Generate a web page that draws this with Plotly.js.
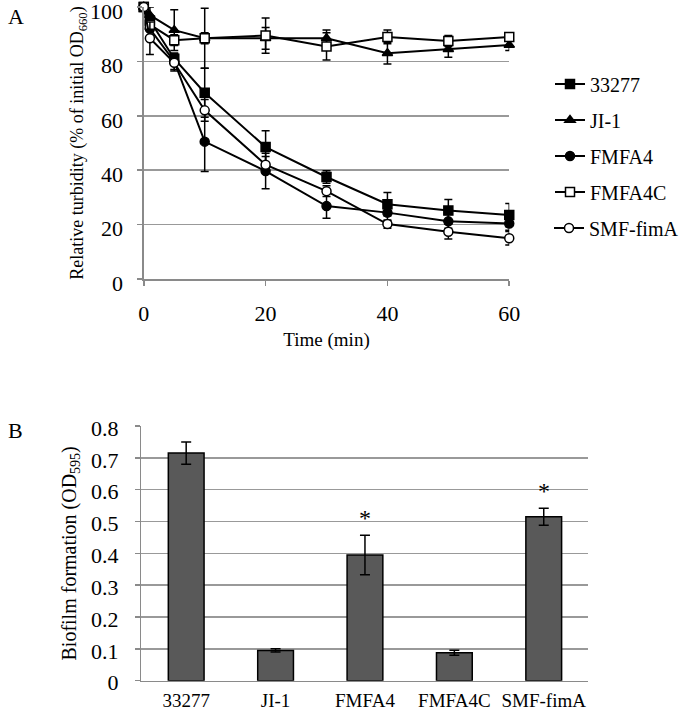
<!DOCTYPE html>
<html>
<head>
<meta charset="utf-8">
<script src="https://cdn.plot.ly/plotly-3.0.1.min.js"></script>
<style>html,body{margin:0;padding:0;background:#fff;}#chart{width:684px;height:711px;}</style>
</head>
<body>
<div id="chart"></div>
<script>
// Panel A: turbidity over time
const timeMin = [0, 1, 5, 10, 20, 30, 40, 50, 60];
const s33277 = [100, 95, 81, 68.5, 48.5, 37.5, 27.5, 25.2, 23.5];
const e33277 = [1, 2, 2, 9, 6, 2.3, 4.3, 4, 4.3];
const sJI1 = [100, 97, 91.5, 88.5, 88.5, 88.5, 83, 84.5, 86];
const eJI1 = [1, 3, 7.5, 11, 4, 3, 4, 3, 2];
const sFMFA4 = [100, 92, 80, 50.5, 39.7, 26.8, 24.4, 21.2, 20.4];
const eFMFA4 = [1, 3, 3, 11, 6.5, 4.5, 3, 2.5, 2.5];
const sFMFA4C = [100, 93.5, 87.8, 88.5, 89.5, 85.5, 89, 87.5, 89];
const eFMFA4C = [1, 2, 2, 2, 6.5, 5, 2.5, 2, 1.5];
const sSMF = [100, 88.5, 79.5, 62, 42, 32.3, 20.2, 17.4, 15];
const eSMF = [1, 6, 3, 4, 3, 2, 1.5, 2.7, 2.5];
const seriesNames = ['33277', 'JI-1', 'FMFA4', 'FMFA4C', 'SMF-fimA'];

// Panel B: biofilm formation
const strains = ['33277', 'JI-1', 'FMFA4', 'FMFA4C', 'SMF-fimA'];
const biofilm = [0.715, 0.095, 0.395, 0.088, 0.515];
const biofilmErr = [0.035, 0.005, 0.062, 0.008, 0.027];
const significance = ['', '', '*', '', '*'];

const W = 684, H = 711;
const px = v => v / W;
const py = v => 1 - v / H;
const FONT = 'Liberation Serif, Times New Roman, serif';

const styles = [
  {symbol: 'square', fill: 'black'},
  {symbol: 'triangle-up', fill: 'black'},
  {symbol: 'circle', fill: 'black'},
  {symbol: 'square', fill: 'white'},
  {symbol: 'circle', fill: 'white'}
];
const ys = [s33277, sJI1, sFMFA4, sFMFA4C, sSMF];
const es = [e33277, eJI1, eFMFA4, eFMFA4C, eSMF];
const legendIds = ['legend', 'legend2', 'legend3', 'legend4', 'legend5'];

const traces = ys.map((y, i) => ({
  type: 'scatter', mode: 'lines+markers', name: seriesNames[i],
  x: timeMin, y: y, xaxis: 'x', yaxis: 'y',
  legend: legendIds[i], cliponaxis: false,
  line: {color: 'black', width: 2},
  marker: {symbol: styles[i].symbol, size: 9, color: styles[i].fill, line: {color: 'black', width: 1.5}},
  error_y: {type: 'data', array: es[i], visible: true, color: 'black', thickness: 1.5, width: 4}
}));

traces.push({
  type: 'bar', x: strains, y: biofilm, xaxis: 'x2', yaxis: 'y2', showlegend: false,
  width: 0.4,
  marker: {color: '#595959', line: {color: 'black', width: 1.5}},
  error_y: {type: 'data', array: biofilmErr, visible: true, color: 'black', thickness: 1.5, width: 5}
});

const annotations = [
  {text: 'A', xref: 'paper', yref: 'paper', x: px(6), y: py(16), xanchor: 'left', yanchor: 'middle', showarrow: false, font: {size: 22, family: FONT, color: 'black'}},
  {text: 'B', xref: 'paper', yref: 'paper', x: px(6), y: py(430), xanchor: 'left', yanchor: 'middle', showarrow: false, font: {size: 22, family: FONT, color: 'black'}}
];
significance.forEach((s, i) => {
  if (s) annotations.push({text: s, xref: 'x2', yref: 'y2', x: strains[i], y: biofilm[i] + biofilmErr[i] + 0.055,
    yanchor: 'middle', showarrow: false, font: {size: 24, family: FONT, color: '#000000'}});
});

const gridC = '#999999', lineC = '#8a8a8a';
const legendRows = [84, 120, 156, 192, 228];
const layout = {
  width: W, height: H, margin: {l: 0, r: 0, t: 0, b: 0},
  paper_bgcolor: 'white', plot_bgcolor: 'white',
  font: {family: FONT, color: 'black', size: 19},
  showlegend: true,
  xaxis: {domain: [px(144), px(510)], range: [0, 60], tickvals: [0, 20, 40, 60], ticks: 'outside', ticklen: 5, tickcolor: lineC, tickwidth: 1.5,
    showline: true, linecolor: lineC, linewidth: 1.5, showgrid: false, zeroline: false, tickfont: {size: 22}, ticklabelstandoff: 9,
    ticklabeloverflow: 'allow', title: {text: 'Time (min)', font: {size: 19}, standoff: 8}, anchor: 'y'},
  yaxis: {domain: [py(279), py(7)], range: [0, 100], dtick: 20, ticks: 'outside', ticklen: 5, tickcolor: lineC, tickwidth: 1.5,
    showline: true, linecolor: lineC, linewidth: 1.5, gridcolor: gridC, gridwidth: 1.5, zeroline: false, tickfont: {size: 22}, ticklabelstandoff: 10,
    ticklabelshift: 4, ticklabeloverflow: 'allow',
    title: {text: 'Relative turbidity (% of initial OD<sub>660</sub>)', font: {size: 18}, standoff: 1}, anchor: 'x'},
  xaxis2: {domain: [px(141.7), px(589.3)], type: 'category', anchor: 'y2', showline: true, linecolor: lineC, linewidth: 1.5, ticks: '',
    showgrid: false, tickfont: {size: 19}, ticklabelstandoff: 2, ticklabeloverflow: 'allow'},
  yaxis2: {domain: [py(680.7), py(426)], range: [0, 0.8], dtick: 0.1, ticks: 'outside', ticklen: 5, tickcolor: lineC, tickwidth: 1.5,
    showline: true, linecolor: lineC, linewidth: 1.5, gridcolor: gridC, gridwidth: 1.5, zeroline: false, tickfont: {size: 22}, ticklabelstandoff: 12,
    ticklabelshift: 2, ticklabeloverflow: 'allow',
    title: {text: 'Biofilm formation (OD<sub>595</sub>)', font: {size: 20}, standoff: 9}, anchor: 'x2'},
  annotations: annotations
};
legendIds.forEach((id, i) => {
  layout[id] = {x: px(550), y: py(legendRows[i]), xanchor: 'left', yanchor: 'middle',
    font: {size: 20, family: FONT, color: 'black'}, bgcolor: 'rgba(0,0,0,0)', borderwidth: 0};
});

Plotly.newPlot('chart', traces, layout, {displayModeBar: false, staticPlot: true});
</script>
</body>
</html>
